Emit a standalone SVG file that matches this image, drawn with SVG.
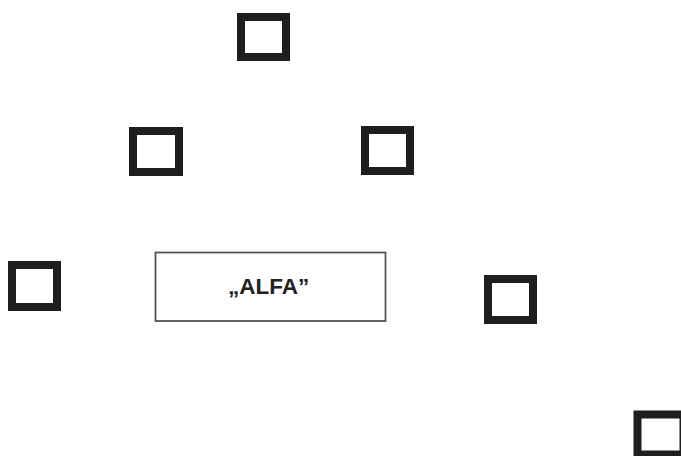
<svg xmlns="http://www.w3.org/2000/svg" width="681" height="456" viewBox="0 0 681 456">
<style>
.sq{fill:#fff;stroke:#1e1e1e;stroke-width:8}
.box{fill:#fff;stroke:#555;stroke-width:1.8}
.lbl{font-family:"Liberation Sans",Arial,sans-serif;font-weight:bold;font-size:22.5px;fill:#222;text-anchor:middle}
</style>
<rect width="681" height="456" fill="#fff"/>
<g id="connectors"></g>
<g id="n1"><rect class="sq" x="241" y="17" width="45" height="40"/></g>
<g id="n2"><rect class="sq" x="133" y="131" width="46" height="41"/></g>
<g id="n3"><rect class="sq" x="365" y="130" width="45" height="41"/></g>
<g id="n4"><rect class="sq" x="12" y="265" width="45" height="42"/></g>
<g id="alfa"><rect class="box" x="155.5" y="252.5" width="230" height="68.5"/><text class="lbl" x="268.7" y="293.5">„ALFA”</text></g>
<g id="n5"><rect class="sq" x="488" y="279" width="45" height="41"/></g>
<g id="n6"><rect class="sq" x="637.5" y="414.5" width="46" height="40"/></g>
</svg>
